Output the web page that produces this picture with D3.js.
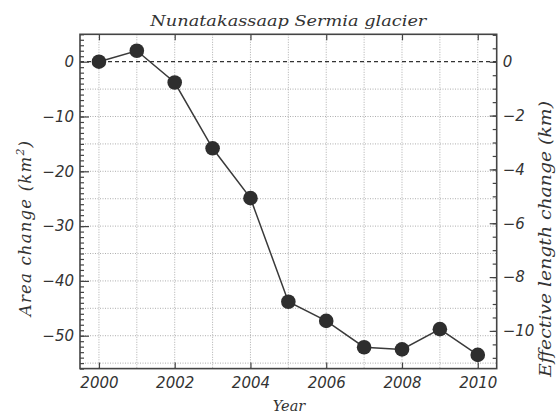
<!DOCTYPE html>
<html>
<head>
<meta charset="utf-8">
<script src="https://cdn.jsdelivr.net/npm/d3@7"></script>
<style>
  html, body { margin: 0; padding: 0; background: #fff; }
  svg { display: block; }
  .tick text { font-family: "DejaVu Sans", sans-serif; font-style: italic; font-size: 15px; fill: #333; }
  .ttl { font-family: "DejaVu Serif", serif; font-style: italic; fill: #333; }
</style>
</head>
<body>
<script>
// ---- data ----
const years = [2000, 2001, 2002, 2003, 2004, 2005, 2006, 2007, 2008, 2009, 2010];
const areaChange = [0, 2.0, -3.8, -15.8, -24.9, -43.8, -47.3, -52.1, -52.5, -48.8, -53.5];
const xTicks = [2000, 2002, 2004, 2006, 2008, 2010];
const yLeftTicks = [0, -10, -20, -30, -40, -50];
const yRightTicks = [0, -2, -4, -6, -8, -10];
const titleText = "Nunatakassaap Sermia glacier";
const xLabel = "Year";
const yLeftLabel = "Area change (km";
const yRightLabel = "Effective length change (km)";

// ---- layout ----
const W = 557, H = 415;
const L = 80, R = 496.7, T = 34.3, B = 368.6;
const ink = "#333";

const svg = d3.select("body").append("svg").attr("width", W).attr("height", H);

const x = d3.scaleLinear().domain([1999.5, 2010.5]).range([L, R]);
const y = d3.scaleLinear().domain([-56, 5]).range([B, T]);
const y2 = d3.scaleLinear().domain([-11.40, 1.02]).range([B, T]);

// grid
const gridX = d3.range(2000, 2011);
const gridY = d3.range(-55, 5, 5).filter(v => v !== 0);
svg.append("g").selectAll("line").data(gridX).join("line")
  .attr("x1", d => x(d)).attr("x2", d => x(d)).attr("y1", T).attr("y2", B)
  .attr("stroke", "#999").attr("stroke-width", 0.8).attr("stroke-dasharray", "1,1.5");
svg.append("g").selectAll("line").data(gridY).join("line")
  .attr("x1", L).attr("x2", R).attr("y1", d => y(d)).attr("y2", d => y(d))
  .attr("stroke", "#999").attr("stroke-width", 0.8).attr("stroke-dasharray", "1,1.5");
// zero line
svg.append("line").attr("x1", L).attr("x2", R).attr("y1", y(0)).attr("y2", y(0))
  .attr("stroke", ink).attr("stroke-width", 1.2).attr("stroke-dasharray", "4,3");

// axes
function style(g) {
  g.select(".domain").remove();
  g.selectAll(".tick line").attr("stroke", "#444").attr("stroke-width", 1.2);
}
// bottom
svg.append("g").attr("transform", `translate(0,${B})`)
  .call(d3.axisBottom(x).tickValues(xTicks).tickFormat(d3.format("d")).tickSize(-6).tickPadding(9))
  .call(style);
// top
svg.append("g").attr("transform", `translate(0,${T})`)
  .call(d3.axisTop(x).tickValues(xTicks).tickFormat("").tickSize(-6))
  .call(style);
// left major + minor
const minus = s => s.replace("-", "\u2212");
svg.append("g").attr("transform", `translate(${L},0)`)
  .call(d3.axisLeft(y).tickValues(d3.range(-56, 6, 1)).tickFormat("").tickSize(-4))
  .call(style);
svg.append("g").attr("transform", `translate(${L},0)`)
  .call(d3.axisLeft(y).tickValues(yLeftTicks).tickFormat(d => minus(String(d))).tickSize(-9).tickPadding(6))
  .call(style);
// right major + minor
svg.append("g").attr("transform", `translate(${R},0)`)
  .call(d3.axisRight(y2).tickValues(d3.range(-11, 1.01, 0.5)).tickFormat("").tickSize(-4))
  .call(style);
svg.append("g").attr("transform", `translate(${R},0)`)
  .call(d3.axisRight(y2).tickValues(yRightTicks).tickFormat(d => minus(String(d))).tickSize(-7).tickPadding(6))
  .call(style);

// frame
svg.append("rect").attr("x", L).attr("y", T).attr("width", R - L).attr("height", B - T)
  .attr("fill", "none").attr("stroke", "#444").attr("stroke-width", 1.6);

// line + markers
const line = d3.line().x((d, i) => x(years[i])).y(d => y(d));
svg.append("path").datum(areaChange).attr("d", line)
  .attr("fill", "none").attr("stroke", "#3a3a3a").attr("stroke-width", 1.5);
svg.append("g").selectAll("circle").data(areaChange).join("circle")
  .attr("cx", (d, i) => x(years[i])).attr("cy", d => y(d)).attr("r", 7.3)
  .attr("fill", "#2e2e2e");

// titles
svg.append("text").attr("class", "ttl").attr("x", (L + R) / 2).attr("y", 26)
  .attr("text-anchor", "middle").attr("font-size", 15)
  .attr("textLength", 276).attr("lengthAdjust", "spacingAndGlyphs")
  .text(titleText);
svg.append("text").attr("class", "ttl").attr("x", 289).attr("y", 411)
  .attr("text-anchor", "middle").attr("font-size", 14.5).text(xLabel);
const yl = svg.append("text").attr("class", "ttl")
  .attr("transform", `translate(31,228) rotate(-90)`)
  .attr("text-anchor", "middle").attr("font-size", 16.5)
  .attr("letter-spacing", 1.2);
yl.append("tspan").text(yLeftLabel);
yl.append("tspan").attr("dy", -7).attr("font-size", 11).text("2");
yl.append("tspan").attr("dy", 7).text(")");
svg.append("text").attr("class", "ttl")
  .attr("transform", `translate(551,239) rotate(-90)`)
  .attr("text-anchor", "middle").attr("font-size", 16.5)
  .attr("textLength", 276).attr("lengthAdjust", "spacingAndGlyphs")
  .text(yRightLabel);
</script>
</body>
</html>
